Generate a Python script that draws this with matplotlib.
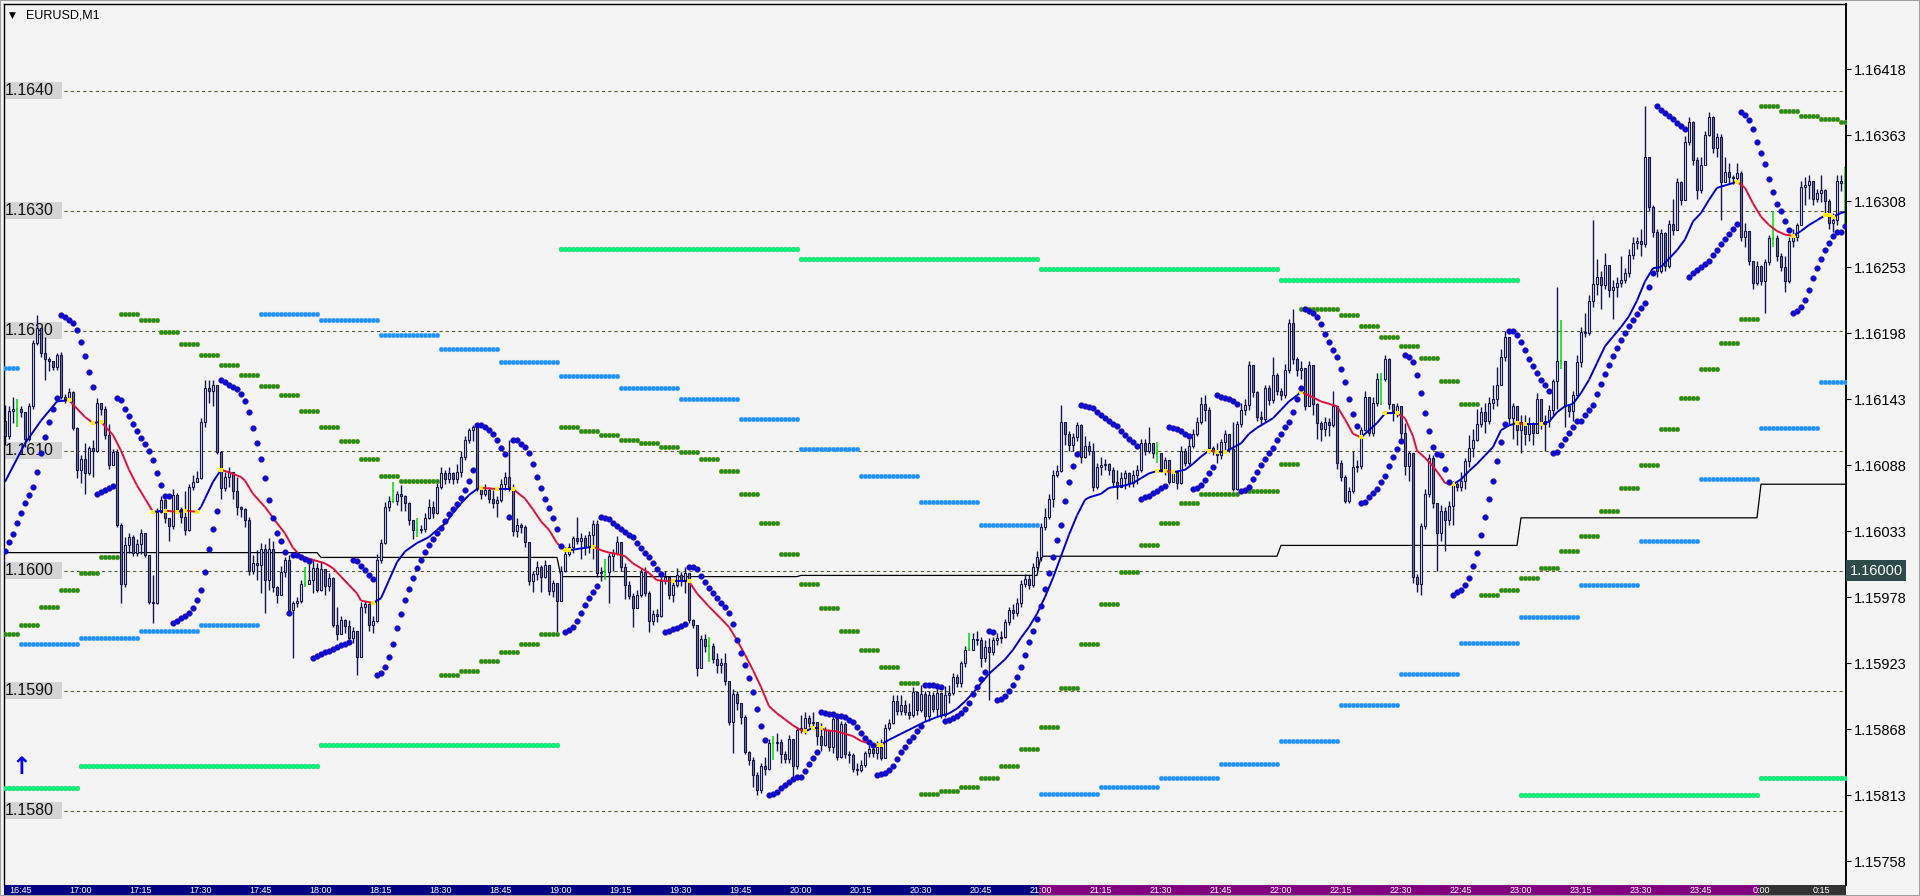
import numpy as np
import matplotlib
matplotlib.use("Agg")
import matplotlib.pyplot as plt
import matplotlib.transforms as mtransforms
from matplotlib.patches import Rectangle
from matplotlib.collections import LineCollection

# ---------------------------------------------------------------- data
BASE = 1.16000          # prices below are stored in points (0.00001) above BASE
PT = 0.00001
FIRST_BAR = "16:40"     # time of bar 0 (M1 bars)
symbol_title = "EURUSD,M1"

open0_pts = 130
close_pts = [
    125, 112, 133, 135, 135, 132, 110, 137, 190, 202,
    181, 176, 175, 170, 180, 145, 143, 149, 119, 84,
    93, 81, 102, 100, 140, 135, 113, 88, 99, 38,
    -11, 21, 28, 15, 22, 31, 13, -26, -27, 49,
    59, 44, 37, 63, 51, 45,
    34, 70, 74, 77, 124, 152, 150, 155, 99, 69,
    78, 82, 66, 53, 51, 42, 0, 6, 5, 18,
    -8, 18, -14, -20, -1, 9, -33, -27, -25, -11,
    -11, -8, 2, -16, 1, -13, -6, -45, -53, -41,
    -46, -56, -50, -72, -30, -28, -45, -42, 9, 23,
    53, 58, 58, 64, 62, 56, 42, 34, 34,
    35, 44, 53, 48, 70, 81, 76, 81, 76, 82,
    95, 109, 117, 120, 69, 64, 67, 60, 56, 59,
    72, 78, 70, 33, 38, 36, 24, -9, -3, 3,
    -5, 5, -17, -10, -25, 0, 14, 20, 27, 25,
    27, 20, 30, 39, -2, -1, -1, 12, 15,
    24, 3, -12, -21, -31, -20, -1, -19, -42, -36,
    -38, -9, -5, -20, -12, -4, -8, -2, -41, -45,
    -81, -57, -63, -63, -74, -79, -77, -92, -126, -103,
    -110, -122, -151, -158, -170, -183, -163, -165, -144, -144,
    -143, -153, -157, -140, -163, -133, -131, -123, -127, -126,
    -138, -145, -133, -147, -124, -155, -128, -153, -154, -165,
    -166, -162, -152, -149, -152, -147, -156, -131, -127, -109,
    -117, -112, -118, -120, -101, -116, -103, -121, -104, -115,
    -102, -120, -104, -102, -89, -94, -77, -66, -66, -57,
    -58, -73, -64, -68, -58, -56, -55, -43, -33, -35,
    -27, -11, -7, -12, 3, 11, 36, 45, 60, 80,
    83, 124, 114, 105, 111, 121, 95, 104, 100, 70,
    86, 88, 89, 84, 74, 70, 77, 81, 73, 80,
    84, 106, 100, 106, 98, 98, 85, 92, 74, 82,
    73, 100, 90, 104, 114, 124, 139, 134, 102, 100,
    96, 107, 114,
    101, 68, 122, 134, 138, 171, 149, 128, 126, 152,
    142, 163, 150, 146, 167, 206, 176, 167, 169, 137,
    171, 139, 123, 118, 124, 121, 137, 90, 78, 58,
    66, 86, 87, 117, 145, 115, 140, 160, 160, 176,
    139, 133, 137, 115, 87, 98, -5, -11, 37, 64,
    94, 56, 31, 50, 42, 54, 72, 70, 75, 91,
    102, 109, 122, 132, 125, 140, 143, 155, 178, 195,
    127, 137, 117, 124, 114, 122, 115, 143, 122, 125,
    134, 158, 175, 175, 137, 133, 146, 174, 199, 198,
    225, 239, 245, 238, 255, 234, 236, 240, 242, 248,
    263, 273, 275, 272, 345, 303, 282, 250, 281, 254,
    289, 284, 324, 309, 357, 374, 342, 317, 338, 363,
    378, 352, 361, 324, 332, 328, 327, 331, 278, 283,
    258, 240, 254, 241, 257, 277, 277, 262, 253, 241,
    275, 278, 288, 320, 321, 325, 310, 315, 317, 308,
    290, 292, 325, 323, 323,
]
high_pts = [
    135, 138, 137, 145, 143, 137, 132, 140, 192, 213,
    200, 195, 178, 175, 181, 182, 147, 152, 150, 120,
    96, 106, 104, 109, 144, 140, 137, 122, 101, 101,
    40, 28, 31, 30, 26, 35, 30, 13, -4, 52,
    62, 60, 44, 68, 65, 53,
    66, 72, 80, 83, 127, 159, 159, 159, 134, 100,
    82, 86, 82, 78, 54, 52, 45, 13, 17, 23,
    22, 27, 25, -13, 4, 11, 13, -25, -22, -8,
    3, 6, 9, 6, 8, -3, -2, -5, -30, -38,
    -40, -41, -47, -55, -26, -25, -27, -38, 14, 26,
    57, 62, 74, 66, 71, 63, 57, 42, 44,
    38, 48, 60, 58, 73, 86, 84, 86, 82, 89,
    100, 112, 119, 121, 120, 70, 72, 70, 67, 62,
    76, 82, 109, 72, 44, 40, 38, 24, 0, 8,
    5, 9, 0, -8, -18, 4, 20, 23, 29, 45,
    31, 30, 33, 42, 42, 3, 10, 15, 18,
    29, 24, 6, -9, -19, -16, 2, 3, -17, -33,
    -32, -4, 0, -7, -9, 2, -1, 3, -4, -40,
    -45, -54, -53, -55, -60, -69, -73, -69, -92, -99,
    -100, -110, -120, -150, -155, -168, -160, -155, -140, -138,
    -135, -140, -150, -137, -140, -130, -120, -118, -120, -118,
    -126, -127, -130, -133, -121, -122, -125, -126, -150, -152,
    -160, -158, -150, -145, -146, -142, -140, -128, -124, -104,
    -104, -104, -108, -110, -97, -100, -95, -100, -100, -101,
    -98, -101, -96, -95, -85, -86, -75, -63, -52, -52,
    -50, -55, -58, -56, -55, -52, -50, -40, -30, -28,
    -23, -8, -3, -4, 6, 16, 40, 52, 64, 84,
    88, 138, 124, 116, 115, 124, 122, 112, 108, 106,
    90, 95, 93, 90, 86, 84, 82, 84, 82, 84,
    88, 110, 110, 120, 106, 107, 92, 95, 86, 84,
    78, 104, 102, 110, 118, 128, 145, 146, 136, 104,
    106, 110, 117,
    114, 124, 125, 140, 143, 175, 170, 150, 133, 155,
    155, 178, 165, 152, 172, 210, 218, 178, 175, 168,
    175, 170, 140, 125, 128, 127, 150, 137, 92, 80,
    70, 100, 92, 120, 150, 142, 145, 165, 165, 180,
    177, 139, 140, 137, 123, 100, 97, -3, 40, 68,
    97, 96, 56, 55, 53, 58, 75, 74, 82, 94,
    113, 118, 135, 136, 140, 145, 155, 170, 185, 200,
    194, 140, 137, 130, 130, 128, 124, 148, 143, 130,
    138, 160, 236, 209, 172, 138, 150, 180, 203, 215,
    230, 292, 260, 250, 265, 255, 242, 245, 262, 252,
    268, 278, 278, 285, 387, 345, 305, 285, 285, 282,
    292, 310, 327, 325, 362, 378, 375, 345, 345, 366,
    382, 379, 365, 364, 345, 340, 330, 340, 333, 290,
    272, 258, 258, 255, 260, 280, 300, 280, 265, 262,
    278, 285, 290, 325, 328, 330, 320, 318, 330, 318,
    310, 298, 330, 330, 336,
]
low_pts = [
    110, 105, 110, 123, 120, 128, 103, 108, 135, 188,
    178, 159, 166, 167, 167, 143, 140, 142, 117, 77,
    73, 64, 80, 78, 99, 130, 110, 85, 88, 36,
    -27, -14, 15, 12, 12, 14, 11, -28, -44, -28,
    48, 40, 25, 35, 49, 40,
    30, 33, 67, 74, 76, 120, 140, 137, 97, 60,
    66, 70, 60, 46, 45, 36, -4, -3, -8, -19,
    -35, -16, -18, -27, -20, -5, -36, -73, -30, -27,
    -14, -11, -19, -18, -17, -20, -17, -47, -58, -48,
    -52, -59, -60, -87, -72, -35, -50, -52, -43, 6,
    22, 50, 56, 55, 50, 50, 38, 26, 28,
    31, 32, 43, 44, 47, 68, 72, 73, 72, 73,
    78, 92, 106, 108, 66, 60, 62, 56, 52, 45,
    57, 67, 66, 29, 28, 31, 20, -12, -18, -8,
    -18, -6, -20, -22, -51, -25, -1, 12, 15, 22,
    10, 13, 15, 10, -5, -9, -8, -27, 0,
    13, 0, -24, -24, -47, -31, -22, -21, -51, -45,
    -43, -39, -11, -24, -26, -14, -13, -19, -44, -48,
    -88, -81, -68, -76, -77, -85, -85, -95, -129, -152,
    -116, -128, -153, -162, -180, -187, -185, -170, -166, -158,
    -150, -160, -160, -160, -172, -165, -135, -136, -130, -131,
    -145, -150, -146, -150, -152, -158, -156, -156, -160, -168,
    -170, -168, -164, -155, -155, -157, -158, -145, -133, -128,
    -120, -120, -120, -124, -122, -120, -118, -125, -125, -118,
    -121, -123, -122, -110, -104, -97, -97, -80, -67, -65,
    -62, -80, -76, -108, -70, -62, -60, -56, -45, -40,
    -38, -30, -14, -15, -14, 0, 8, 34, 43, 53,
    78, 82, 105, 100, 100, 108, 90, 94, 96, 66,
    68, 80, 84, 80, 70, 60, 72, 68, 70, 70,
    72, 82, 96, 98, 94, 90, 82, 80, 72, 75,
    68, 72, 87, 88, 102, 112, 122, 125, 98, 96,
    90, 93, 100,
    99, 66, 67, 120, 130, 134, 145, 125, 122, 124,
    138, 140, 146, 142, 144, 165, 172, 162, 160, 134,
    138, 130, 110, 108, 112, 112, 120, 85, 75, 56,
    56, 65, 82, 85, 116, 112, 112, 137, 138, 158,
    135, 125, 128, 110, 80, 75, -10, -18, -20, 35,
    61, 52, 0, 25, 16, 38, 38, 66, 66, 68,
    86, 95, 108, 120, 115, 122, 135, 137, 155, 175,
    122, 110, 105, 98, 105, 108, 105, 118, 118, 100,
    120, 130, 135, 168, 120, 128, 125, 144, 170, 195,
    196, 220, 230, 218, 235, 228, 210, 228, 236, 240,
    245, 260, 268, 262, 270, 300, 278, 245, 248, 250,
    252, 280, 285, 305, 312, 355, 338, 310, 315, 338,
    362, 348, 345, 292, 325, 322, 322, 325, 275, 270,
    255, 235, 238, 238, 215, 255, 270, 258, 250, 232,
    240, 270, 275, 288, 305, 310, 305, 307, 307, 298,
    285, 282, 288, 316, 288,
]

# higher-timeframe parabolic SAR levels (one value per M5 / M15 / H1 period)
m5_sar_pts = [
    -53, -45, -30, -16, -2, 11, 214, 209, 199, 189, 180, 171, 163, 154, 146, 133,
    120, 108, 93, 79, 75, 75, -87, -84, -75, -68, -61, -53, 120, 116, 113, 109,
    106, 103, 99, 93, 83, 64, 40, 14, -11, -31, -50, -66, -80, -94, -186, -184,
    -180, -173, -163, -149, -130, -98, -61, -28, -1, 21, 40, 56, 64, 64, 66, 66,
    89, 218, 218, 213, 204, 195, 187, 177, 158, 139, -20, -16, -6, 2, 16, 29,
    50, 69, 88, 118, 144, 168, 190, 210, 387, 383, 379, 376, 374,
]
m15_sar_pts = [169, -61, -56, -50, -45, 214, 209, 196, 185, 174, 162, 152, 143, 126, 101, 79,
               57, 38, -186, -180, -173, -161, -142, -112, -86, -60, -39, -12, 25, 76, 119, 157]
h1_sar_pts = [-181, -163, -145, 268, 260, 251, 242, -187, -173]
h1_line_pts = [15, 15, 11, -5, -4, 12, 21, 44, 72]

# moving average (bar index, points)
ma_bar = [1, 6, 10, 14, 17, 21, 23, 25, 28, 30, 32, 34, 36, 38, 41, 44, 46, 49, 50, 51, 53, 55, 57, 60, 61, 63, 66, 68, 71, 73,
          75, 78, 81, 83, 85, 87, 89, 90, 93, 95, 97, 99, 101, 104, 107, 109, 111, 113, 115, 117,
          119, 120, 124, 128, 131, 133, 135, 137, 139, 141, 142, 144, 146, 148, 150, 152, 154, 156, 158, 160,
          162, 164, 168, 172, 174, 177, 180, 182, 184, 186, 188, 190, 192, 194, 196, 198, 200, 201, 203, 205,
          206, 209, 213, 215, 217, 219, 220, 222, 225, 228, 231, 234, 237, 239, 241, 243, 245, 247, 249, 251,
          253, 255, 257, 259, 261, 263, 265, 267, 269, 271, 272, 275, 277, 279, 281, 283, 285, 287, 289, 291,
          293, 296, 298, 300, 302, 304, 306, 310, 312, 314, 316, 318, 320, 322, 324, 325, 327, 330, 332, 334,
          336, 338, 340, 342, 344, 346, 349, 351, 353, 354, 356, 358, 360, 361, 363, 365, 367, 369, 371, 373,
          375, 377, 379, 381, 385, 387, 389, 391, 393, 395, 397, 399, 401, 403, 405, 407, 409, 411, 413, 415,
          417, 419, 421, 423, 425, 427, 429, 431, 433, 434, 436, 438, 440, 442, 444, 446, 448, 450, 452, 454,
          456, 457, 458, 460, 461]
ma_pts = [74, 106, 125, 141, 142, 128, 123, 124, 113, 100, 84, 71, 60, 49, 50, 49, 50, 49, 53, 60, 74, 84, 82, 78, 75, 64, 53, 44, 31, 19,
          12, 9, 6, 2, -5, -12, -19, -25, -27, -23, -8, 7, 16, 23, 28, 34, 39, 48, 56, 63,
          68, 69, 68, 68, 60, 51, 41, 34, 23, 17, 17, 18, 19, 20, 17, 15, 14, 12, 6, 2,
          -2, -8, -9, -9, -19, -30, -40, -47, -58, -70, -83, -97, -113, -119, -124, -129, -133, -134, -131, -131,
          -133, -134, -138, -142, -144, -145, -145, -141, -136, -131, -126, -122, -119, -115, -109, -102, -94, -86, -80, -74,
          -66, -56, -47, -36, -22, -6, 12, 30, 46, 59, 61, 64, 69, 70, 71, 73, 77, 81, 83, 83,
          82, 84, 89, 95, 100, 99, 99, 106, 114, 119, 123, 127, 134, 141, 146, 149, 146, 141, 139, 137,
          126, 114, 111, 117, 123, 131, 131, 127, 112, 100, 94, 87, 78, 73, 72, 76, 83, 89, 96, 103,
          117, 121, 123, 122, 122, 124, 132, 137, 139, 148, 159, 173, 187, 195, 203, 212, 225, 241, 252, 253,
          260, 267, 276, 291, 298, 309, 319, 321, 323, 324, 319, 306, 295, 288, 283, 280, 279, 283, 288, 292,
          296, 296, 295, 298, 299]

# parabolic SAR (M1) seed read at bar 0
sar_seed_pts, sar_seed_ep_pts, sar_seed_af = 9, 138, 0.06

time_labels = ["16:45", "17:00", "17:15", "17:30", "17:45", "18:00", "18:15", "18:30", "18:45",
               "19:00", "19:15", "19:30", "19:45", "20:00", "20:15", "20:30", "20:45", "21:00",
               "21:15", "21:30", "21:45", "22:00", "22:15", "22:30", "22:45", "23:00", "23:15",
               "23:30", "23:45", "0:00", "0:15"]
session_starts = ["21:00", "0:00"]
level_prices = [1.1640, 1.1630, 1.1620, 1.1610, 1.1600, 1.1590, 1.1580]
axis_prices = [1.16418, 1.16363, 1.16308, 1.16253, 1.16198, 1.16143, 1.16088,
               1.16033, 1.15978, 1.15923, 1.15868, 1.15813, 1.15758]
marker_price = 1.16000
arrow_time, arrow_pts = "16:45", -164

assert len(close_pts) == len(high_pts) == len(low_pts)
assert len(ma_bar) == len(ma_pts)

# ---------------------------------------------------------------- helpers
def minutes(t):
    hh, mm = map(int, t.split(":"))
    return hh * 60 + mm

T0 = minutes(FIRST_BAR)

def bar_of(t):
    d = minutes(t) - T0
    return d if d >= 0 else d + 1440

def P(v):
    return BASE + np.asarray(v, dtype=float) * PT

n = len(close_pts)
idx = np.arange(n)
tabs = T0 + idx
c = np.array(close_pts, float)
o = np.r_[open0_pts, c[:-1]]
h = np.maximum(np.array(high_pts, float), np.maximum(o, c))
l = np.minimum(np.array(low_pts, float), np.minimum(o, c))

m5 = np.array(m5_sar_pts)[tabs // 5 - T0 // 5]
m15 = np.array(m15_sar_pts)[tabs // 15 - T0 // 15]
h1 = np.array(h1_sar_pts)[tabs // 60 - T0 // 60]
h1line = np.array(h1_line_pts)[tabs // 60 - T0 // 60]


def parabolic_sar(hi, lo, sar0, ep0, af0, step=0.02, amax=0.2):
    out = np.empty(len(hi))
    up = True
    sar, ep, af = sar0, ep0, af0
    out[0] = sar
    for i in range(1, len(hi)):
        sar = sar + af * (ep - sar)
        j = max(i - 2, 0)
        if up:
            sar = min(sar, lo[i - 1], lo[j])
            if lo[i] < sar:
                up, sar, ep, af = False, ep, lo[i], step
            elif hi[i] > ep:
                ep, af = hi[i], min(af + step, amax)
        else:
            sar = max(sar, hi[i - 1], hi[j])
            if hi[i] > sar:
                up, sar, ep, af = True, ep, hi[i], step
            elif lo[i] < ep:
                ep, af = lo[i], min(af + step, amax)
        out[i] = sar
    return out

sar = parabolic_sar(h, l, sar_seed_pts, sar_seed_ep_pts, sar_seed_af)

# ---------------------------------------------------------------- figure
W, H = 1920, 896
BG = "#F4F4F4"
fig = plt.figure(figsize=(W / 100, H / 100), dpi=100, facecolor=BG)
ax_l, ax_r, ax_t, ax_b = 4, 1846, 4, 885
ax = fig.add_axes([ax_l / W, (H - ax_b) / H, (ax_r - ax_l) / W, (ax_b - ax_t) / H])
ax.set_facecolor(BG)
ax.set_xlim(0.75, 461.25)
ax.set_ylim(P(-262.0), P(472.2))

# horizontal level lines with grey labels on the left
ax.hlines(level_prices, 15.75, 461.25, colors="#4F5A28", linestyles=(0, (3, 3)), lw=0.75, zorder=1)
for lv in level_prices:
    ax.add_patch(Rectangle((0.75, lv - 7.3 * PT), 14.5, 14.6 * PT, facecolor="#D4D4D4",
                           edgecolor="none", zorder=1))
    ax.text(0.85, lv, f"{lv:.4f}", fontsize=11.5, family=["Liberation Sans", "DejaVu Sans"],
            va="center", ha="left", color="#111111", zorder=1.2)

# H1 level black line
ax.plot(idx, P(h1line), color="black", lw=0.9, zorder=1.8)

# candles
EDGE = "#14144E"
nd = o != c
faces = np.where(c > o, "#DCDCE6", "#74748E")
ax.vlines(idx[nd], P(l[nd]), P(h[nd]), colors=EDGE, lw=1.0, zorder=2)
ax.bar(idx[nd], (np.abs(c - o)[nd]) * PT, bottom=P(np.minimum(o, c)[nd]), width=0.66,
       color=faces[nd], edgecolor=EDGE, linewidth=0.8, zorder=2.1)
dj = ~nd
ax.vlines(idx[dj], P(l[dj]), P(h[dj]), colors="#00DD00", lw=1.1, zorder=2.2)
ax.hlines(P(c[dj]), idx[dj] - 0.35, idx[dj] + 0.35, colors="#00DD00", lw=1.1, zorder=2.2)

# moving average coloured by direction
mx = np.array(ma_bar, float)
my = P(ma_pts)
segs = np.stack([np.column_stack([mx[:-1], my[:-1]]), np.column_stack([mx[1:], my[1:]])], axis=1)
slope = np.diff(np.array(ma_pts, float))
cols = np.where(slope < 0, "#E0103C", "#0000CC")
ax.add_collection(LineCollection(segs, colors=cols, linewidths=1.4, zorder=3))
turn = np.where(np.sign(slope[1:]) != np.sign(slope[:-1]))[0] + 1
ax.scatter(mx[turn], my[turn], s=5, marker="s", color="#FFEE00", zorder=3.1, linewidths=0)

# higher timeframe SAR dotted levels
ax.scatter(idx, P(h1), s=12, color="#00FA7A", edgecolors="#3CB371", linewidths=0.3, zorder=3.3)
ax.scatter(idx, P(m15), s=12, color="#1E90FF", edgecolors="#6CB6FF", linewidths=0.3, zorder=3.3)
ax.scatter(idx, P(m5), s=12, color="#228B22", edgecolors="#8FA52A", linewidths=0.3, zorder=3.3)

# M1 parabolic SAR
ax.scatter(idx, P(sar), s=17, color="#0A0AD0", edgecolors="#4A18A0", linewidths=0.3, zorder=4)

# signal arrow
ax.text(bar_of(arrow_time), P(arrow_pts), "\u2191", color="#0000FF", fontsize=17,
        fontweight="bold", ha="center", va="center", family="DejaVu Sans", zorder=5)

# axes frame
for s in ("left", "top"):
    ax.spines[s].set_color("black")
    ax.spines[s].set_linewidth(1.0)
ax.spines["right"].set_linewidth(1.4)
ax.spines["bottom"].set_visible(False)

# right price scale
ax.yaxis.tick_right()
ax.set_yticks(axis_prices)
ax.set_yticklabels([f"{p:.5f}" for p in axis_prices], family=["Liberation Sans", "DejaVu Sans"])
ax.tick_params(axis="y", length=3.6, width=0.8, pad=1.8, labelsize=10.5, colors="black", direction="out")

# current price marker
tr_y = mtransforms.blended_transform_factory(ax.transAxes, ax.transData)
ax.text(1.0 + 3.5 / (ax_r - ax_l), marker_price, f"{marker_price:.5f}", transform=tr_y,
        ha="left", va="center", color="white", fontsize=10.5, family=["Liberation Sans", "DejaVu Sans"],
        bbox=dict(boxstyle="square,pad=0.22", fc="#2F4A4A", ec="none"), clip_on=False, zorder=6)

# time band with sessions
tr_x = mtransforms.blended_transform_factory(ax.transData, fig.transFigure)
bounds = [0.75] + [bar_of(t) - 0.5 for t in session_starts] + [461.25]
for (a, b), col in zip(zip(bounds[:-1], bounds[1:]), ["#000080", "#800080", "#333333"]):
    ax.add_patch(Rectangle((a, 0), b - a, (H - ax_b) / H, transform=tr_x, facecolor=col,
                           edgecolor="none", clip_on=False, zorder=0))
ax.set_xticks([bar_of(t) for t in time_labels])
ax.set_xticklabels(time_labels, family=["Liberation Sans Narrow", "Liberation Sans", "DejaVu Sans"])
ax.tick_params(axis="x", length=0, pad=1.0, labelsize=6.5, labelcolor="white")

# title
fig.text(9 / W, 1 - 15 / H, "\u25BC", fontsize=6.5, va="center", ha="left", family="DejaVu Sans")
fig.text(26 / W, 1 - 16 / H, symbol_title, fontsize=9, va="center", ha="left",
         family=["Liberation Sans", "DejaVu Sans"])
fig.add_artist(Rectangle((0, 0), 1, 1, transform=fig.transFigure, fill=False,
                         edgecolor="#A0A0A0", lw=1.5))

fig.savefig("out.png", dpi=100, facecolor=BG)
